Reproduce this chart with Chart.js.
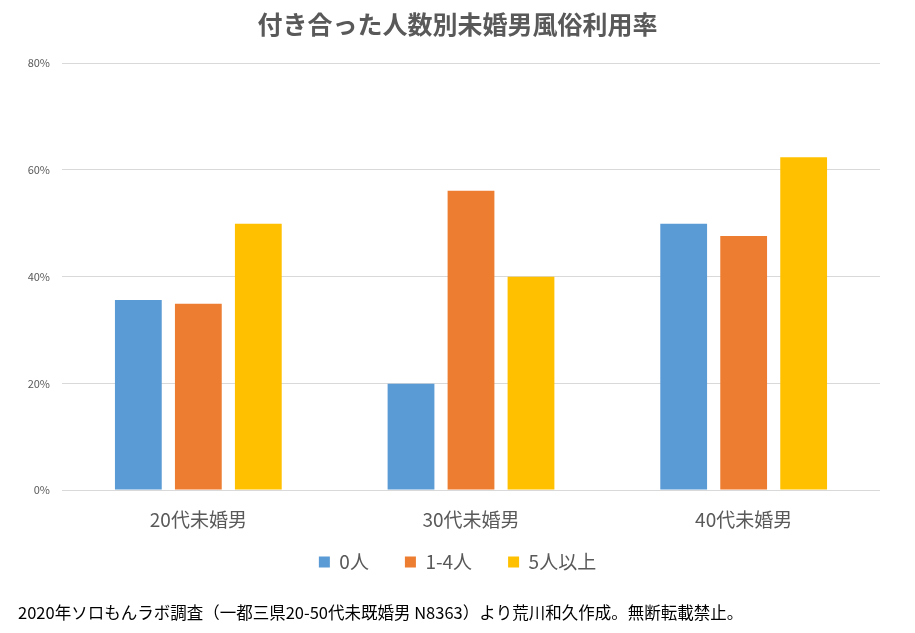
<!DOCTYPE html>
<html>
<head>
<meta charset="utf-8">
<script src="https://cdn.jsdelivr.net/npm/chart.js@4/dist/chart.umd.min.js"></script>
<style>
  html, body { margin: 0; padding: 0; background: #fff; }
  #wrap { width: 915px; height: 633px; }
</style>
</head>
<body>
<div id="wrap"><canvas id="chart" width="915" height="633"></canvas></div>
<script>
const categories = ['20代未婚男', '30代未婚男', '40代未婚男'];
const seriesNames = ['0人', '1-4人', '5人以上'];
const zeroPartners = [35.6, 19.9, 49.9];
const oneToFour = [34.9, 56.1, 47.6];
const fiveOrMore = [49.9, 40.0, 62.4];
const yTicks = [0, 20, 40, 60, 80];
const footerText = '2020年ソロもんラボ調査（一都三県20-50代未既婚男 N8363）より荒川和久作成。無断転載禁止。';

const FONT = '"Noto Sans CJK JP", "Noto Sans", sans-serif';
const GRAY = '#595959';

// footer note under the legend
const footerPlugin = {
  id: 'footerNote',
  afterDraw(chart) {
    const ctx = chart.ctx;
    ctx.save();
    ctx.font = '16.5px ' + FONT;
    ctx.fillStyle = '#000';
    ctx.textBaseline = 'middle';
    ctx.textAlign = 'left';
    ctx.fillText(footerText, 18, 613);
    ctx.restore();
  }
};

// pull the legend up a bit so it sits closer to the category labels
const legendNudge = {
  id: 'legendNudge',
  afterLayout(chart) {
    const lg = chart.legend;
    if (!lg) return;
    lg.top -= 15.5;
    lg.bottom -= 15.5;
  }
};

new Chart(document.getElementById('chart'), {
  type: 'bar',
  data: {
    labels: categories,
    datasets: [
      { label: seriesNames[0], data: zeroPartners, backgroundColor: '#5B9BD5' },
      { label: seriesNames[1], data: oneToFour, backgroundColor: '#ED7D31' },
      { label: seriesNames[2], data: fiveOrMore, backgroundColor: '#FFC000' }
    ]
  },
  options: {
    responsive: false,
    animation: false,
    devicePixelRatio: 1,
    categoryPercentage: 0.66,
    barPercentage: 0.78,
    layout: { padding: { left: 0, right: 0, top: 0, bottom: 36 } },
    plugins: {
      title: {
        display: true,
        text: '付き合った人数別未婚男風俗利用率',
        color: GRAY,
        font: { family: FONT, size: 25, weight: 'bold' },
        padding: { top: 9.5, bottom: 23.8 }
      },
      legend: {
        position: 'bottom',
        labels: {
          color: GRAY,
          font: { family: FONT, size: 19 },
          boxWidth: 11,
          boxHeight: 11,
          padding: 36
        }
      },
      tooltip: { enabled: false }
    },
    scales: {
      x: {
        afterFit(scale) { scale.height = 42; },
        grid: { display: false, drawTicks: false },
        border: { display: false },
        ticks: { color: GRAY, font: { family: FONT, size: 19 }, padding: 18 }
      },
      y: {
        min: 0,
        max: 80,
        afterFit(scale) { scale.width = 62; },
        afterBuildTicks(scale) { scale.ticks = yTicks.map(v => ({ value: v })); },
        grid: { color: '#D9D9D9', drawTicks: false },
        border: { display: false },
        ticks: {
          color: GRAY,
          font: { family: FONT, size: 11 },
          padding: 12,
          callback: v => v + '%'
        }
      },
      // empty right-hand margin axis
      yRight: {
        position: 'right',
        min: 0,
        max: 80,
        afterFit(scale) { scale.width = 35; },
        grid: { display: false, drawTicks: false },
        border: { display: false },
        ticks: { display: false }
      }
    }
  },
  plugins: [footerPlugin, legendNudge]
});
</script>
</body>
</html>
